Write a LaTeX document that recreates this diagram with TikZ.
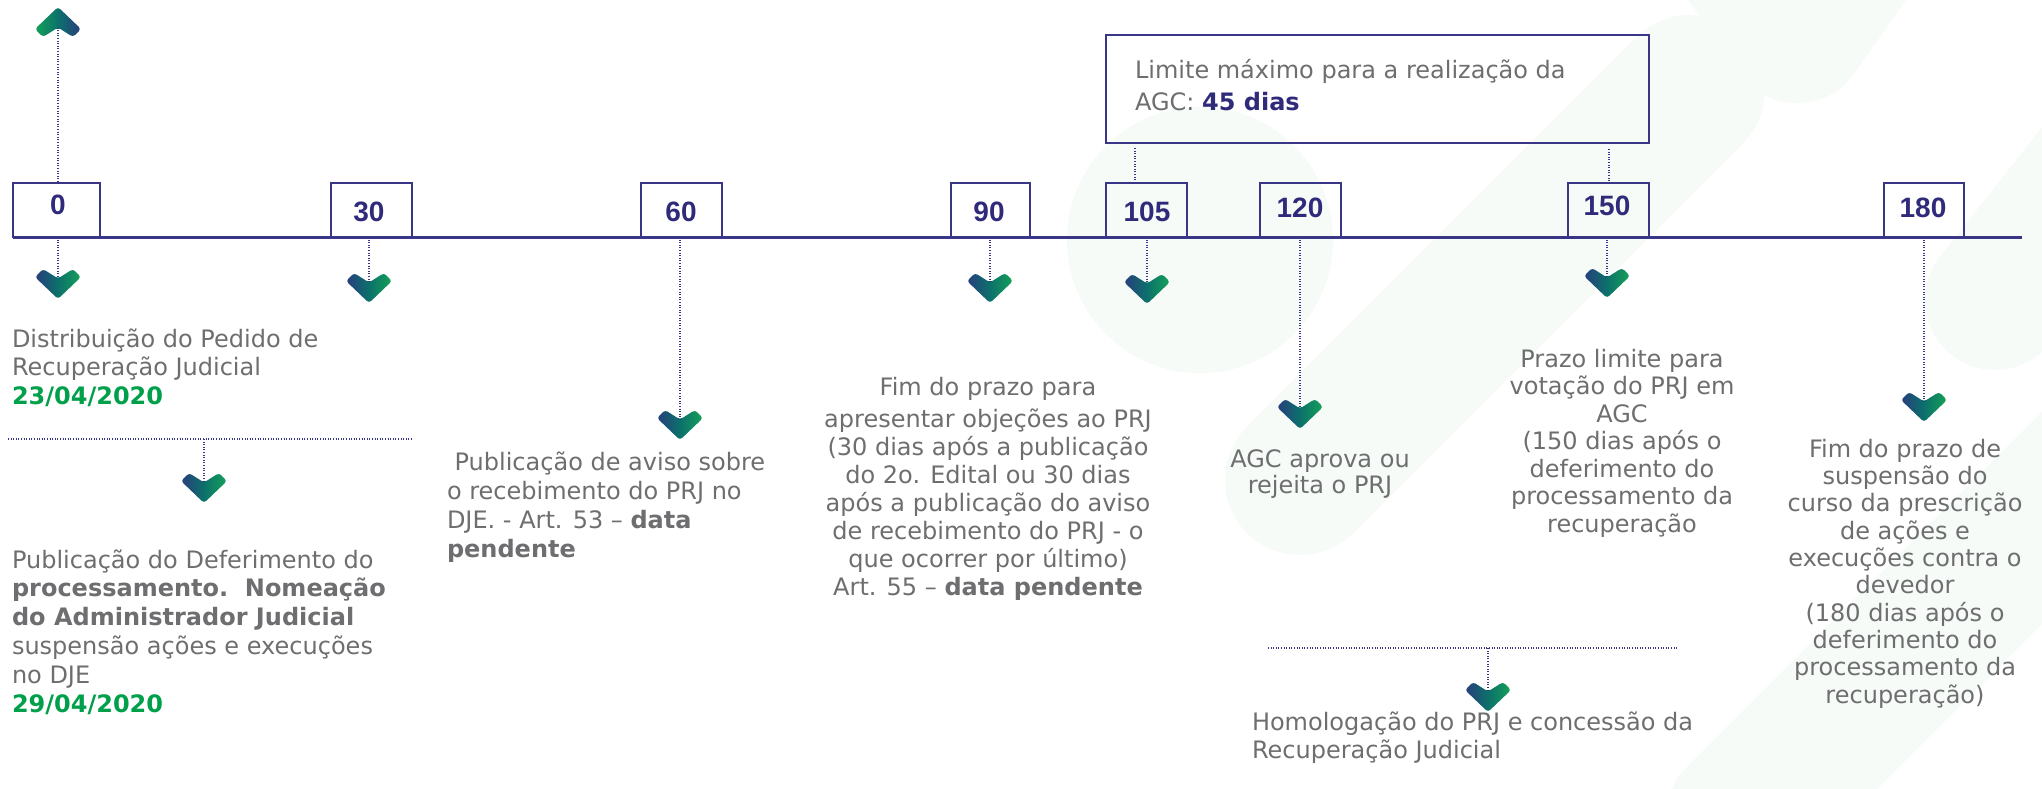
\documentclass[tikz,border=0pt]{standalone}
\usepackage{fontspec}
\setmainfont{DejaVu Sans}
\newfontfamily\numfont{Liberation Sans}
\usetikzlibrary{calc}
\definecolor{navy}{HTML}{3A3687}
\definecolor{numc}{HTML}{2F2B7A}
\definecolor{txtgray}{HTML}{6E6E70}
\definecolor{dgreen}{HTML}{00A04B}
\definecolor{chNavy}{HTML}{283D7E}
\definecolor{chTeal}{HTML}{0C716B}
\definecolor{chGreen}{HTML}{15A158}
\definecolor{wm}{HTML}{F6FBF7}
\newcommand\ltext[1]{\vtop{\halign{##\hfil\cr#1\crcr}}}
\newcommand\ctext[1]{\vtop{\halign{\hfil##\hfil\cr#1\crcr}}}
\newcommand\dgr[1]{{\bfseries\color{dgreen}#1}}
\tikzset{
  tl/.style={draw=navy, line width=1.5pt},
  numbox/.style={draw=navy, line width=1.25pt, minimum width=40.5pt, minimum height=27pt, anchor=south west, inner sep=0pt, outer sep=0pt},
  numtxt/.style={font=\numfont\bfseries\fontsize{14}{16}\selectfont, text=numc, inner sep=0pt},
  dotline/.style={draw=navy, line width=0.8pt, dash pattern=on 0.5pt off 0.8pt},
  body/.style={text=txtgray, inner sep=0pt, outer sep=0pt},
  chevdown/.pic={
    \shade[left color=chNavy, right color=chGreen, middle color=chTeal, rounded corners=1.5pt]
      (-23,8) -- (-15,0) -- (0,9.5) -- (15,0) -- (23,8) -- (0,30) -- cycle;
    \coordinate (-notch) at (0,9.5);
  },
  chevup/.pic={
    \shade[left color=chGreen, right color=chNavy, middle color=chTeal, rounded corners=1.5pt]
      (-23,22) -- (-15,30) -- (0,20.5) -- (15,30) -- (23,22) -- (0,0) -- cycle;
    \coordinate (-notch) at (0,20.5);
  }
}
\begin{document}
\begin{tikzpicture}[x=0.5pt, y=-0.5pt]
\useasboundingbox[fill=white] (0,0) rectangle (2042,788);
% faint background watermark
\begin{scope}
\clip (0,0) rectangle (2042,788);
\fill[wm] (1200,240) circle (133);
\draw[wm, line width=75pt, line cap=round] (1300,480) -- (1690,90);
\draw[wm, line width=70pt, line cap=round, line join=round] (1690,-120) -- (1797,33) -- (1905,-120);
\draw[wm, line width=70pt, line cap=round] (1995,300) -- (2200,40);
\draw[wm, line width=75pt, line cap=round] (1740,820) -- (2120,440);
\end{scope}

% number boxes
\node[numbox, minimum width=43.5pt] (b0) at (13,237) {};
\node[numbox] (b30) at (331,237) {};
\node[numbox] (b60) at (641,237) {};
\node[numbox, minimum width=39.5pt] (b90) at (951,237) {};
\node[numbox] (b105) at (1106,237) {};
\node[numbox] (b120) at (1260,237) {};
\node[numbox] (b150) at (1568,237) {};
\node[numbox, minimum width=40pt] (b180) at (1884,237) {};
\node[numtxt] (n0) at (58,205) {0};
\node[numtxt] (n30) at (369,212) {30};
\node[numtxt] (n60) at (681,212) {60};
\node[numtxt] (n90) at (989,212) {90};
\node[numtxt] (n105) at (1147,212) {105};
\node[numtxt] (n120) at (1300,208) {120};
\node[numtxt] (n150) at (1607,206) {150};
\node[numtxt] (n180) at (1923,208) {180};

% timeline
\coordinate (tlend) at (2022,237);
\draw[tl] (b0.south west) -- (tlend);

% limit box
\node[draw=navy, line width=1.25pt, minimum width=271.5pt, minimum height=54pt, anchor=north west, inner sep=0pt, outer sep=0pt] (lim) at (1106,35) {};
\node[body, anchor=base west, font=\fontsize{12}{16}\selectfont] (limtxt) at (1135,78)
  {\ltext{Limite máximo para a realização da\cr AGC: {\bfseries\color{numc}45 dias}}};

% chevrons
\pic (cup) at (58,7) {chevup};
\pic (c0) at (58,269) {chevdown};
\pic (c30) at (369,273) {chevdown};
\pic (c60) at (680,410) {chevdown};
\pic (c90) at (990,273) {chevdown};
\pic (c105) at (1147,274) {chevdown};
\pic (c120) at (1300,399) {chevdown};
\pic (c150) at (1607,268) {chevdown};
\pic (c180) at (1924,392) {chevdown};
\pic (cdef) at (204,473) {chevdown};
\pic (chom) at (1488,682) {chevdown};

% dotted connectors
\draw[dotline] (cup-notch) -- (cup-notch |- b0.north);
\draw[dotline] (c0-notch |- b0.south) -- (c0-notch);
\draw[dotline] (c30-notch |- b30.south) -- (c30-notch);
\draw[dotline] (c60-notch |- b60.south) -- (c60-notch);
\draw[dotline] (c90-notch |- b90.south) -- (c90-notch);
\draw[dotline] (c105-notch |- b105.south) -- (c105-notch);
\draw[dotline] (c120-notch |- b120.south) -- (c120-notch);
\draw[dotline] (c150-notch |- b150.south) -- (c150-notch);
\draw[dotline] (c180-notch |- b180.south) -- (c180-notch);
\coordinate (l105) at ([xshift=14.5pt,yshift=-2.5pt]lim.south west);
\coordinate (l150) at ([xshift=-20pt,yshift=-3pt]lim.south east);
\draw[dotline] (l105) -- ([yshift=1.5pt]l105 |- b105.north);
\draw[dotline] (l150) -- ([yshift=0.5pt]l150 |- b150.north);
\coordinate (d1) at (8,439);
\coordinate (d2) at (412,439);
\draw[dotline] (d1) -- (d2);
\draw[dotline] (cdef-notch |- d1) -- (cdef-notch);
\coordinate (h1) at (1268,648);
\coordinate (h2) at (1678,648);
\draw[dotline] (h1) -- (h2);
\draw[dotline] (chom-notch |- h1) -- (chom-notch);

% texts
\node[body, anchor=base west, font=\fontsize{12}{14.25}\selectfont] (tdist) at (12,347)
  {\ltext{Distribuição do Pedido de\cr Recuperação Judicial\cr \dgr{23/04/2020}}};
\node[body, anchor=base west, font=\fontsize{12}{14.4}\selectfont] (tdef) at (12,568)
  {\ltext{Publicação do Deferimento do\cr \textbf{processamento.\ \ Nomeação}\cr \textbf{do Administrador Judicial}\cr suspensão ações e execuções\cr no DJE\cr \dgr{29/04/2020}}};
\node[body, anchor=base west, font=\fontsize{12}{14.5}\selectfont] (t60) at (447,470)
  {\ltext{\ Publicação de aviso sobre\cr o recebimento do PRJ no\cr DJE. - Art. 53 – \textbf{data}\cr \textbf{pendente}}};
\node[body, anchor=base, font=\fontsize{12}{14}\selectfont] (t90) at (988,395)
  {\ctext{Fim do prazo para\cr\noalign{\vskip2pt} apresentar objeções ao PRJ\cr (30 dias após a publicação\cr do 2o. Edital ou 30 dias\cr após a publicação do aviso\cr de recebimento do PRJ - o\cr que ocorrer por último)\cr Art. 55 – \textbf{data pendente}}};
\node[body, anchor=base, font=\fontsize{12}{13}\selectfont] (t120) at (1320,467)
  {\ctext{AGC aprova ou\cr rejeita o PRJ}};
\node[body, anchor=base, font=\fontsize{12}{13.75}\selectfont] (t150) at (1622,367)
  {\ctext{Prazo limite para\cr votação do PRJ em\cr AGC\cr (150 dias após o\cr deferimento do\cr processamento da\cr recuperação}};
\node[body, anchor=base, font=\fontsize{12}{13.67}\selectfont] (t180) at (1905,457)
  {\ctext{Fim do prazo de\cr suspensão do\cr curso da prescrição\cr de ações e\cr execuções contra o\cr devedor\cr (180 dias após o\cr deferimento do\cr processamento da\cr recuperação)}};
\node[body, anchor=base west, font=\fontsize{12}{14}\selectfont] (thom) at (1252,730)
  {\ltext{Homologação do PRJ e concessão da\cr Recuperação Judicial}};
\end{tikzpicture}
\end{document}
